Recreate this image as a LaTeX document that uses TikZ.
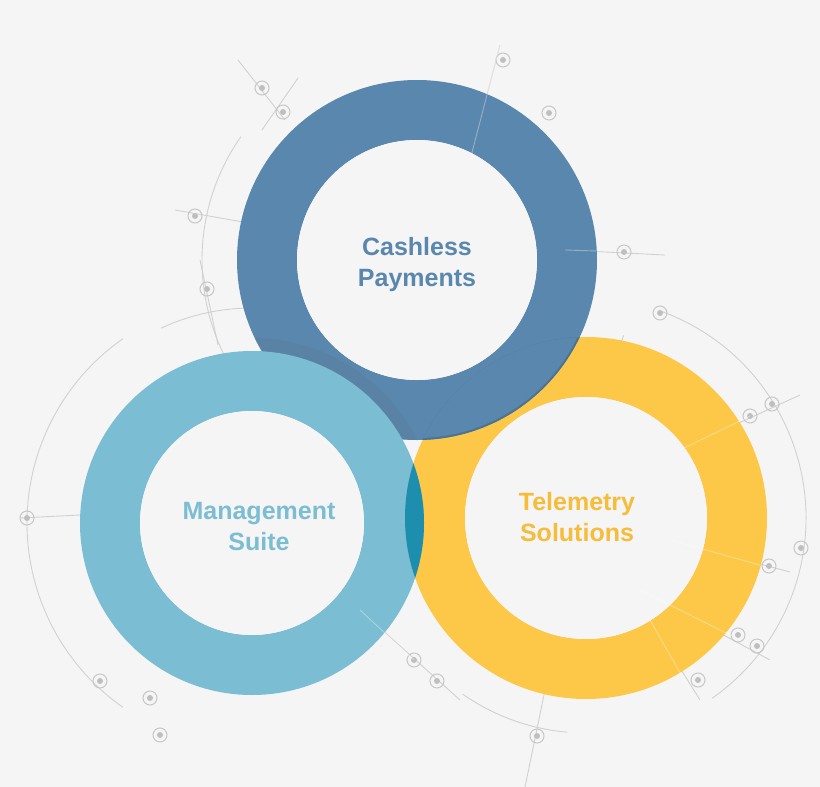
\documentclass[tikz,border=0pt]{standalone}
\usepackage{fontspec}
\setmainfont{Liberation Sans}
\begin{document}
\begin{tikzpicture}[x=1pt,y=-1pt,
  deco/.style={draw=black!18,line width=0.9pt},
  over/.style={draw=white,opacity=0.35,line width=0.9pt},
  tgt/.style={draw=black!22,line width=1pt,fill=none},
  lbl/.style={font=\bfseries\fontsize{25}{31}\selectfont,align=center}]
\definecolor{bg}{HTML}{F5F5F5}
\definecolor{cblue}{HTML}{5A87AD}
\definecolor{lblue}{HTML}{7BBDD2}
\definecolor{cyel}{HTML}{FDC748}
\definecolor{teal}{HTML}{1E8EAE}
\definecolor{tyel}{HTML}{F6BC3A}
\fill[bg] (0,0) rectangle (820,787);
\useasboundingbox (0,0) rectangle (820,787);
% decorative arcs
\draw[deco] (417,260) ++(100:215) arc[start angle=100,end angle=215,radius=215];
\draw[deco] (417,260) ++(20:220) arc[start angle=20,end angle=80,radius=220];
\draw[deco] (252,523) ++(125:225) arc[start angle=125,end angle=235,radius=225];
\draw[deco] (252,523) ++(245:215) arc[start angle=245,end angle=290,radius=215];
\draw[deco] (586,518) ++(-70:220) arc[start angle=-70,end angle=55,radius=220];
\draw[deco] (586,518) ++(95:215) arc[start angle=95,end angle=125,radius=215];
\draw[deco] (238,60) -- (285,120);
\draw[deco] (262,130) -- (298,78);
\draw[deco] (500,45) -- (470,160);
\draw[deco] (175,210) -- (260,225);
\draw[deco] (565,250) -- (665,255);
\draw[deco] (200,260) -- (218,345);
\draw[deco] (680,450) -- (800,395);
\draw[deco] (670,540) -- (790,572);
\draw[deco] (640,590) -- (770,660);
\draw[deco] (650,620) -- (700,700);
\draw[deco] (545,690) -- (525,787);
\draw[deco] (360,610) -- (460,700);
\draw[deco] (20,518) -- (80,515);
% targets
\foreach \p in {(262,88),(283,112),(503,60),(549,113),(195,216),(624,252),(207,289),(660,313),(772,404),(750,416),(801,548),(769,566),(738,635),(757,646),(698,680),(537,736),(414,660),(437,681),(100,681),(150,698),(160,735),(27,518)}{
  \draw[tgt] \p circle[radius=7];
  \fill[black!25] \p circle[radius=3];}
% rings
\fill[cyel,even odd rule] (586,518) circle[radius=181] (586,518) circle[radius=121];
\fill[cblue,even odd rule] (417,260) circle[radius=180] (417,260) circle[radius=120];
\begin{scope}
 \clip (417,260) circle[radius=180];
 \fill[cblue!80!black!90,opacity=0.35] (252,523) circle[radius=185];
\end{scope}
\fill[lblue,even odd rule] (252,523) circle[radius=172] (252,523) circle[radius=112];
\begin{scope}
 \clip (586,518) circle[radius=181];
 \fill[teal] (252,523) circle[radius=172];
\end{scope}
\begin{scope}
 \clip (586,518) circle[radius=181];
 \fill[cblue!85!black] (417,260) circle[radius=180];
 \fill[cblue] (417,260) circle[radius=178];
\end{scope}
\fill[bg] (417,260) circle[radius=120];
\fill[bg] (586,518) circle[radius=121];
\fill[bg] (252,523) circle[radius=112];
% faint lines crossing rings
\draw[over] (500,45) -- (470,160);
\draw[over] (565,250) -- (597,251);
\draw[over] (680,450) -- (750,416);
\draw[over] (670,540) -- (760,565);
\draw[over] (640,590) -- (740,640);
\draw[over] (650,620) -- (690,690);
\draw[over] (360,610) -- (414,660);
% labels
\node[lbl,text=cblue] (cp) at (417,265) {Cashless\\Payments};
\node[lbl,text=lblue] (ms) at (259,527) {Management\\Suite};
\node[lbl,text=tyel] (ts) at (577,517) {Telemetry\\Solutions};
\end{tikzpicture}
\end{document}
